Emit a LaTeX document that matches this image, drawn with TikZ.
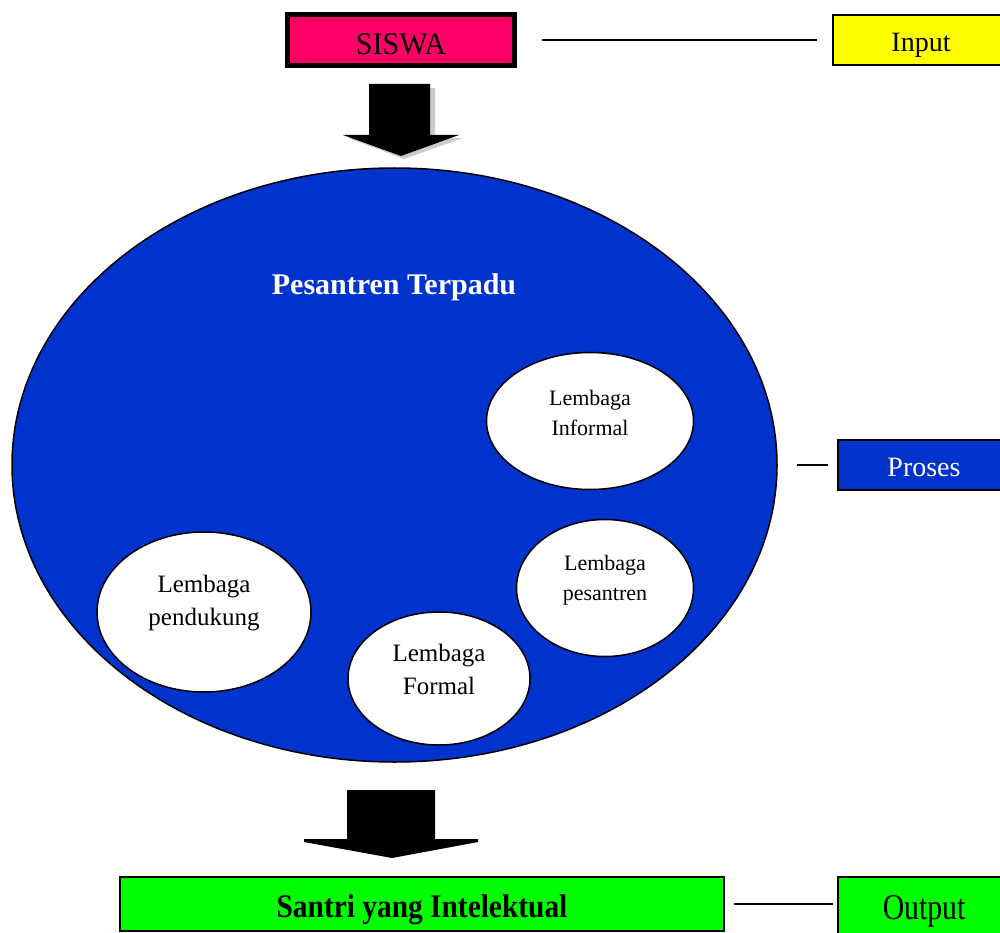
\documentclass[tikz,border=0pt]{standalone}
\usepackage{fontspec}
\setmainfont{Liberation Serif}
\usetikzlibrary{shapes.geometric}
\definecolor{siswapink}{RGB}{255,0,102}
\definecolor{pblue}{RGB}{0,51,204}
\definecolor{pyellow}{RGB}{255,255,0}
\definecolor{pgreen}{RGB}{0,255,0}
\newcommand{\fsz}[1]{\fontsize{#1}{#1}\selectfont}
\newcommand{\lowerby}[2]{\raisebox{-#1}[\height][\depth]{#2}}
\begin{document}
\begin{tikzpicture}[x=1pt,y=-1pt,
  labelbox/.style={draw=black,line width=1.5pt,inner sep=0pt,anchor=center},
  innerell/.style={ellipse,draw=black,line width=1.5pt,fill=white,inner sep=0pt,align=center,anchor=center},
  conn/.style={line width=1.3pt,black},
  bigarrow/.style={fill=black,draw=none}]
\useasboundingbox (0,0) rectangle (1000,933);
\clip (0,0) rectangle (1000,933);
% SISWA
\node[labelbox,line width=5pt,fill=siswapink,minimum width=227pt,minimum height=51pt,
  font=\fsz{30}] (siswa) at (401,40) {\lowerby{4pt}{\scalebox{1}[1.05]{SISWA}}};
% Input
\node[labelbox,fill=pyellow,minimum width=176pt,minimum height=50pt,font=\fsz{28}] (input) at (921,40) {\lowerby{5pt}{Input}};
\draw[conn,shorten <=25pt,shorten >=15pt] (siswa.east) -- (siswa.east -| input.west);
% top arrow with shadow
\fill[gray!40] (375,88) -- (435,88) -- (435,138) -- (463,138) -- (404,159) -- (348,138) -- (375,138) -- cycle;
\fill[bigarrow] (369,84) -- (430,84) -- (430,135) -- (459,135) -- (401,156) -- (343,135) -- (369,135) -- cycle;
% big ellipse
\node[ellipse,draw=black,line width=1.5pt,fill=pblue,minimum width=765pt,minimum height=594pt,inner sep=0pt] (pes) at (394.5,465) {};
\node[text=white,font=\bfseries\fsz{30}] (pestitle) at (394,287) {Pesantren Terpadu};
% inner ellipses
\node[innerell,minimum width=207pt,minimum height=137pt,font=\fsz{22}] (informal) at (590,421)
  {\\[-26pt]Lembaga\\[8pt]Informal};
\node[innerell,minimum width=177pt,minimum height=137pt,font=\fsz{22}] (pesantren) at (605,588)
  {\\[-22pt]Lembaga\\[8pt]pesantren};
\node[innerell,minimum width=182pt,minimum height=133pt,font=\fsz{25}] (formal) at (439,678.5)
  {\\[-28pt]Lembaga\\[8pt]Formal};
\node[innerell,minimum width=214pt,minimum height=160pt,font=\fsz{25}] (pendukung) at (204,612)
  {\\[-38pt]Lembaga\\[8pt]pendukung};
% Proses
\node[labelbox,fill=pblue,text=white,minimum width=172pt,minimum height=50pt,font=\fsz{28}] (proses) at (924,465) {\lowerby{2pt}{Proses}};
\draw[conn,shorten <=19pt,shorten >=9pt] (pes.east) -- (pes.east -| proses.west);
% bottom arrow
\fill[bigarrow] (347,790) -- (435,790) -- (435,839) -- (478,839) -- (478,842) -- (392,858) -- (304,842) -- (304,839) -- (347,839) -- cycle;
% Santri
\node[labelbox,line width=2pt,fill=pgreen,minimum width=604pt,minimum height=54pt,font=\bfseries\fsz{30}] (santri) at (422,904)
  {\lowerby{6pt}{\scalebox{0.98}[1.1]{Santri yang Intelektual}}};
% Output
\node[labelbox,fill=pgreen,minimum width=172pt,minimum height=64pt,font=\fsz{33}] (output) at (924,909)
  {\lowerby{2pt}{\scalebox{0.9}[1.1]{Output}}};
\draw[conn,shorten <=9pt,shorten >=4pt] (santri.east) -- (santri.east -| output.west);
\end{tikzpicture}
\end{document}
